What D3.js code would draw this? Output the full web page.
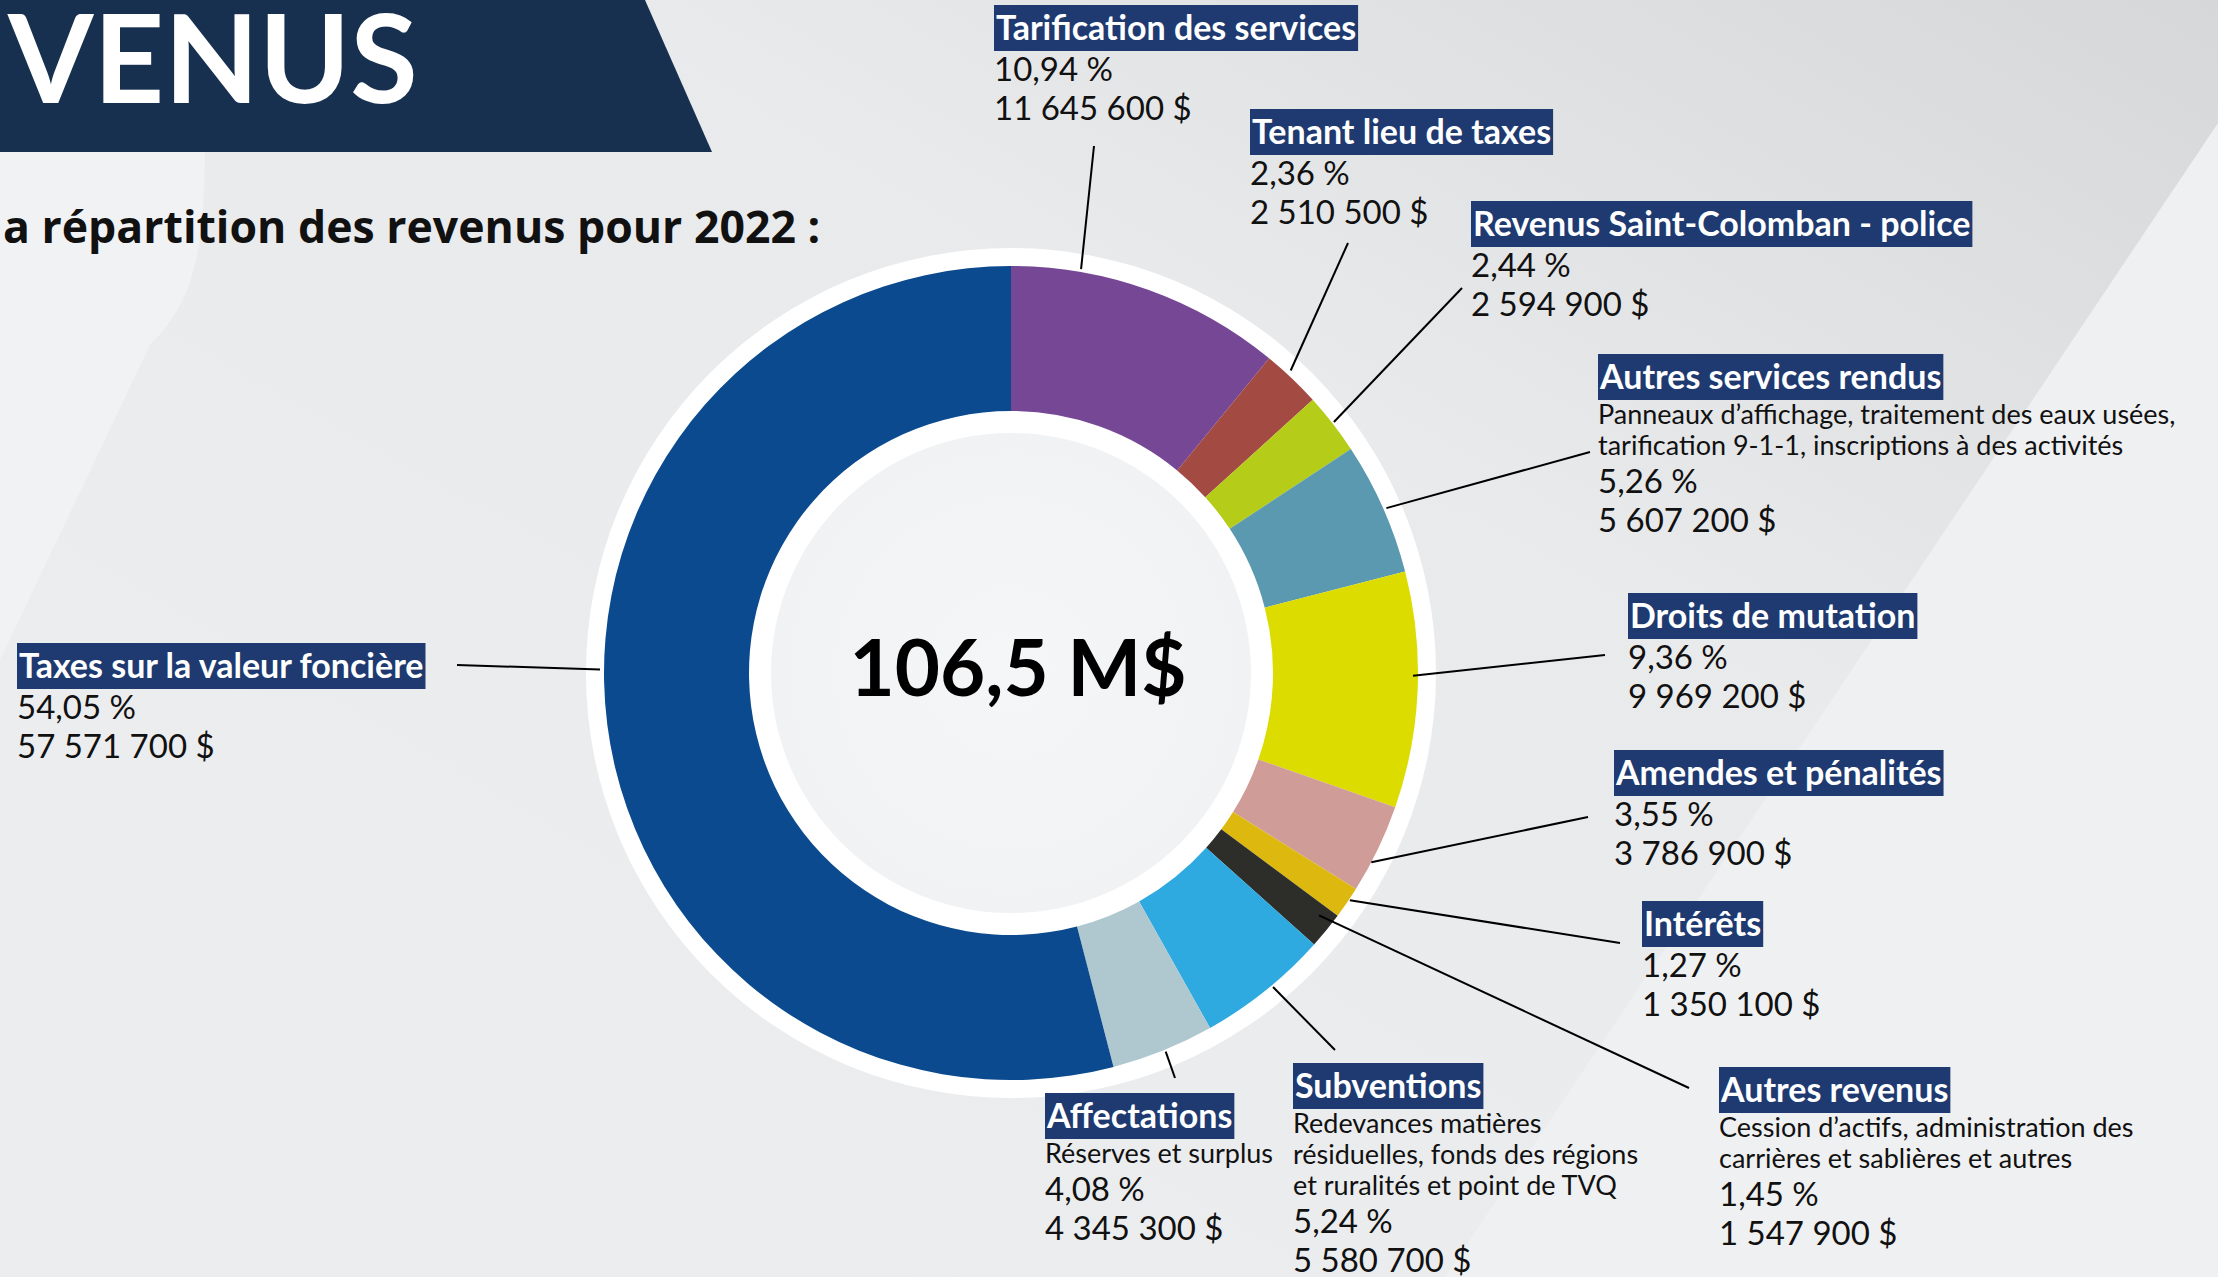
<!DOCTYPE html>
<html>
<head>
<meta charset="utf-8">
<script src="https://cdn.jsdelivr.net/npm/d3@7"></script>
<style>
  body { margin: 0; overflow: hidden; background: #ebecee; }
  text { font-family: Lato, "Open Sans", sans-serif; }
</style>
</head>
<body>
<svg id="chart" width="2218" height="1277"></svg>
<script>
// revenue categories, clockwise from 12 o'clock
var categories = [
  "Tarification des services", "Tenant lieu de taxes", "Revenus Saint-Colomban - police",
  "Autres services rendus", "Droits de mutation", "Amendes et pénalités", "Intérêts",
  "Autres revenus", "Subventions", "Affectations", "Taxes sur la valeur foncière"
];
var amounts = [11645600, 2510500, 2594900, 5607200, 9969200, 3786900, 1350100,
               1547900, 5580700, 4345300, 57571700];
var percents = [10.94, 2.36, 2.44, 5.26, 9.36, 3.55, 1.27, 1.45, 5.24, 4.08, 54.05];
var notes = [
  [], [], [],
  ["Panneaux d’affichage, traitement des eaux usées,", "tarification 9-1-1, inscriptions à des activités"],
  [], [], [],
  ["Cession d’actifs, administration des", "carrières et sablières et autres"],
  ["Redevances matières", "résiduelles, fonds des régions", "et ruralités et point de TVQ"],
  ["Réserves et surplus"],
  []
];
var colors = ["#754795", "#a34a43", "#b5cc18", "#5a99b0", "#dcdc00", "#cf9c98",
              "#ddb90f", "#2d2e29", "#2eaae1", "#afc8d0", "#0b4a8f"];
var totalLabel = "106,5 M$";
var title = "VENUS";
var subtitle = "a répartition des revenus pour 2022 :";

// label placement: box top-left, leader start, leader end (fraction of slice, radius)
var labelPos = [
  {x: 994,  y: 5,    sx: 1094, sy: 146,  f: 0.25, r: 410},
  {x: 1250, y: 109,  sx: 1348, sy: 243,  f: 0.40, r: 412},
  {x: 1471, y: 201,  sx: 1462, sy: 288,  f: 0.49, r: 409},
  {x: 1598, y: 354,  sx: 1590, sy: 452,  f: 0.51, r: 410},
  {x: 1628, y: 593,  sx: 1605, sy: 655,  f: 0.44, r: 402},
  {x: 1614, y: 750,  sx: 1588, sy: 817,  f: 0.66, r: 407},
  {x: 1642, y: 901,  sx: 1620, sy: 943,  f: 0.39, r: 408},
  {x: 1719, y: 1067, sx: 1689, sy: 1088, f: 0.30, r: 392},
  {x: 1293, y: 1063, sx: 1335, sy: 1050, f: 0.44, r: 409},
  {x: 1045, y: 1093, sx: 1175, sy: 1078, f: 0.48, r: 409},
  {x: 17,   y: 643,  sx: 457,  sy: 665,  f: 0.54, r: 411}
];

var W = 2218, H = 1277;
var cx = 1011, cy = 673;
var rOuter = 407, rInner = 262;

var fr = d3.formatLocale({decimal: ",", thousands: "\u00a0", grouping: [3], currency: ["", "\u00a0$"]});
var fmtMoney = fr.format("$,.0f");
var fmtPct = fr.format(".2f");

var svg = d3.select("#chart");
var defs = svg.append("defs");

// background
var bg = defs.append("linearGradient").attr("id", "bg")
  .attr("x1", "100%").attr("y1", "0%").attr("x2", "20%").attr("y2", "80%");
bg.append("stop").attr("offset", "0%").attr("stop-color", "#d6d7d9");
bg.append("stop").attr("offset", "45%").attr("stop-color", "#e9eaec");
bg.append("stop").attr("offset", "100%").attr("stop-color", "#ecedef");
svg.append("rect").attr("width", W).attr("height", H).attr("fill", "url(#bg)");

svg.append("path")
  .attr("d", "M0,140 L205,140 C205,250 195,300 150,345 L0,660 Z")
  .attr("fill", "#f1f2f4");
svg.append("path")
  .attr("d", "M2218,123 L1445,1277 L2218,1277 Z")
  .attr("fill", "#eff0f2");

// title banner
svg.append("path")
  .attr("d", "M0,0 L645,0 L712,152 L0,152 Z")
  .attr("fill", "#17304f");
svg.append("text")
  .attr("x", 8).attr("y", 103)
  .attr("font-size", 123).attr("font-weight", 700)
  .attr("fill", "#fff")
  .text(title);
svg.append("text")
  .attr("x", 3).attr("y", 243)
  .style("font-family", "'Open Sans', Lato, sans-serif")
  .attr("font-size", 44.6).attr("font-weight", 700)
  .attr("fill", "#111")
  .text(subtitle);

// donut
var pie = d3.pie().sort(null).value(function(d) { return d; })
  .startAngle(0).endAngle(2 * Math.PI);
var arcs = pie(amounts);
var arc = d3.arc().innerRadius(rInner).outerRadius(rOuter);

var g = svg.append("g").attr("transform", "translate(" + cx + "," + cy + ")");
g.append("circle").attr("r", 425).attr("fill", "#fff");
g.selectAll("path.slice")
  .data(arcs)
  .enter().append("path")
  .attr("class", "slice")
  .attr("d", arc)
  .attr("fill", function(d, i) { return colors[i]; });

var inner = defs.append("radialGradient").attr("id", "inner");
inner.append("stop").attr("offset", "0%").attr("stop-color", "#f5f6f8");
inner.append("stop").attr("offset", "100%").attr("stop-color", "#f1f2f4");
g.append("circle").attr("r", 240).attr("fill", "url(#inner)");

svg.append("text")
  .attr("x", 1018).attr("y", 696)
  .attr("text-anchor", "middle")
  .attr("font-size", 78).attr("font-weight", 700)
  .attr("fill", "#000")
  .text(totalLabel);

// leader lines
svg.selectAll("line.leader")
  .data(arcs)
  .enter().append("line")
  .attr("class", "leader")
  .attr("x1", function(d, i) { return labelPos[i].sx; })
  .attr("y1", function(d, i) { return labelPos[i].sy; })
  .attr("x2", function(d, i) {
    var p = labelPos[i], a = d.startAngle + p.f * (d.endAngle - d.startAngle);
    return cx + p.r * Math.sin(a);
  })
  .attr("y2", function(d, i) {
    var p = labelPos[i], a = d.startAngle + p.f * (d.endAngle - d.startAngle);
    return cy - p.r * Math.cos(a);
  })
  .attr("stroke", "#000").attr("stroke-width", 2);

// labels
categories.forEach(function(name, i) {
  var p = labelPos[i];
  var lg = svg.append("g").attr("class", "label");
  var box = lg.append("rect").attr("fill", "#1e3a71");
  var head = lg.append("text")
    .attr("x", p.x + 2).attr("y", p.y + 35)
    .attr("font-size", 34).attr("font-weight", 700)
    .attr("fill", "#fff")
    .text(name);
  var w = head.node().getComputedTextLength();
  box.attr("x", p.x).attr("y", p.y).attr("width", w + 4).attr("height", 46);

  var yy;
  if (notes[i].length) {
    yy = p.y + 70;
    notes[i].forEach(function(line) {
      lg.append("text").attr("x", p.x).attr("y", yy)
        .attr("font-size", 27).attr("fill", "#111").text(line);
      yy += 31;
    });
    yy += 7;
  } else {
    yy = p.y + 76;
  }
  lg.append("text").attr("x", p.x).attr("y", yy)
    .attr("font-size", 33).attr("fill", "#111")
    .text(fmtPct(percents[i]) + "\u00a0%");
  lg.append("text").attr("x", p.x).attr("y", yy + 39)
    .attr("font-size", 33).attr("fill", "#111")
    .text(fmtMoney(amounts[i]));
});
</script>
</body>
</html>
